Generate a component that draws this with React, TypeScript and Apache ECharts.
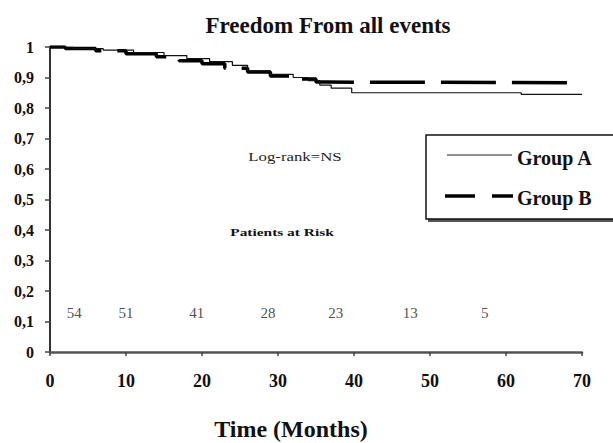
import React, { useEffect, useRef } from "react";
import * as echarts from "echarts";

const groupATimes = [0, 3, 7, 11, 15, 18, 21, 24, 26, 29, 32, 34, 35.5, 37, 39.7, 62, 70];
const groupAValues = [1, 0.995, 0.99, 0.982, 0.972, 0.962, 0.952, 0.94, 0.922, 0.91, 0.9, 0.89, 0.875, 0.865, 0.85, 0.845, 0.845];
const groupBTimes = [0, 2, 6, 10, 14, 17, 20, 23, 26, 29, 32, 35, 36.5, 70];
const groupBValues = [1, 0.995, 0.988, 0.978, 0.968, 0.955, 0.945, 0.93, 0.918, 0.905, 0.895, 0.885, 0.883, 0.883];
const riskTimes = [3.2, 10, 19.3, 28.7, 37.6, 47.4, 57.2];
const riskCounts = [54, 51, 41, 28, 23, 13, 5];
const riskLevel = 0.128;
const xTicks = { min: 0, max: 70, interval: 10 };
const yTicks = { min: 0, max: 1, interval: 0.1 };

const SERIF = "'Liberation Serif', 'Times New Roman', serif";

export default function App() {
  const ref = useRef<HTMLDivElement>(null);
  useEffect(() => {
    if (!ref.current) return;
    const chart = echarts.init(ref.current, undefined, { renderer: "svg" });
    const aData = groupATimes.map((t, i) => [t, groupAValues[i]]);
    const bData = groupBTimes.map((t, i) => [t, groupBValues[i]]);
    const riskData = riskTimes.map((t, i) => [t, riskLevel, riskCounts[i]]);
    chart.setOption({
      animation: false,
      backgroundColor: "#ffffff",
      grid: { left: 50, right: 31, top: 47, bottom: 91, containLabel: false },
      xAxis: {
        type: "value",
        min: xTicks.min,
        max: xTicks.max,
        interval: xTicks.interval,
        axisLine: { show: true, lineStyle: { color: "#555", width: 2.5 } },
        axisTick: { show: true, length: 4, lineStyle: { color: "#444", width: 1.5 } },
        splitLine: { show: false },
        axisLabel: {
          margin: 20,
          fontFamily: SERIF,
          fontWeight: "bold",
          fontSize: 18,
          color: "#111",
        },
      },
      yAxis: {
        type: "value",
        min: yTicks.min,
        max: yTicks.max,
        interval: yTicks.interval,
        axisLine: { show: true, lineStyle: { color: "#333", width: 2 } },
        axisTick: { show: true, length: 5, lineStyle: { color: "#444", width: 1.5 } },
        splitLine: { show: false },
        axisLabel: {
          margin: 16,
          fontFamily: SERIF,
          fontWeight: "bold",
          fontSize: 16,
          color: "#111",
          formatter: (v: number) => {
            if (v === 0) return "0";
            if (v === 1) return "1";
            return v.toFixed(1).replace(".", ",");
          },
        },
      },
      series: [
        {
          name: "Group B",
          type: "line",
          step: "end",
          data: bData,
          symbol: "none",
          z: 2,
          lineStyle: { color: "#000", width: 3.5, type: [55, 16] },
        },
        {
          name: "Group A",
          type: "line",
          step: "end",
          data: aData,
          symbol: "none",
          z: 3,
          lineStyle: { color: "#111", width: 1.2 },
        },
        {
          name: "Patients at Risk",
          type: "scatter",
          data: riskData,
          symbolSize: 0,
          z: 4,
          label: {
            show: true,
            position: "inside",
            formatter: (p: any) => String(p.value[2]),
            fontFamily: SERIF,
            fontSize: 15,
            color: "#222",
          },
        },
      ],
      graphic: [
        {
          type: "text",
          x: 328,
          y: 25,
          style: {
            text: "Freedom From all events",
            fontFamily: SERIF,
            fontWeight: "bold",
            fontSize: 23,
            fill: "#111",
            textAlign: "center",
            textVerticalAlign: "middle",
          },
        },
        {
          type: "text",
          x: 291,
          y: 429,
          style: {
            text: "Time (Months)",
            fontFamily: SERIF,
            fontWeight: "bold",
            fontSize: 24,
            lineHeight: 24,
            fill: "#111",
            textAlign: "center",
            textVerticalAlign: "middle",
          },
        },
        {
          type: "text",
          x: 295,
          y: 157,
          scaleX: 1.4,
          style: {
            text: "Log-rank=NS",
            fontFamily: SERIF,
            fontSize: 12,
            fill: "#222",
            textAlign: "center",
            textVerticalAlign: "middle",
          },
        },
        {
          type: "text",
          x: 282,
          y: 232,
          scaleX: 1.4,
          style: {
            text: "Patients at Risk",
            fontFamily: SERIF,
            fontWeight: "bold",
            fontSize: 11,
            fill: "#111",
            textAlign: "center",
            textVerticalAlign: "middle",
          },
        },
        {
          type: "rect",
          shape: { x: 428, y: 138, width: 200, height: 84 },
          style: { fill: "#555", stroke: "none" },
        },
        {
          type: "rect",
          shape: { x: 426, y: 135, width: 200, height: 84 },
          style: { fill: "#fff", stroke: "#111", lineWidth: 1.5 },
        },
        {
          type: "line",
          shape: { x1: 447, y1: 155, x2: 512, y2: 155 },
          style: { stroke: "#222", lineWidth: 1 },
        },
        {
          type: "text",
          x: 517,
          y: 158,
          style: {
            text: "Group A",
            fontFamily: SERIF,
            fontWeight: "bold",
            fontSize: 20,
            fill: "#111",
            textAlign: "left",
            textVerticalAlign: "middle",
          },
        },
        {
          type: "line",
          shape: { x1: 445, y1: 196, x2: 475, y2: 196 },
          style: { stroke: "#000", lineWidth: 3.5 },
        },
        {
          type: "line",
          shape: { x1: 492, y1: 196, x2: 513, y2: 196 },
          style: { stroke: "#000", lineWidth: 3.5 },
        },
        {
          type: "text",
          x: 517,
          y: 198,
          style: {
            text: "Group B",
            fontFamily: SERIF,
            fontWeight: "bold",
            fontSize: 20,
            fill: "#111",
            textAlign: "left",
            textVerticalAlign: "middle",
          },
        },
      ],
    });
    return () => chart.dispose();
  }, []);
  return (
    <div
      ref={ref}
      style={{ position: "fixed", left: 0, top: 0, width: 613, height: 443, background: "#fff" }}
    />
  );
}
